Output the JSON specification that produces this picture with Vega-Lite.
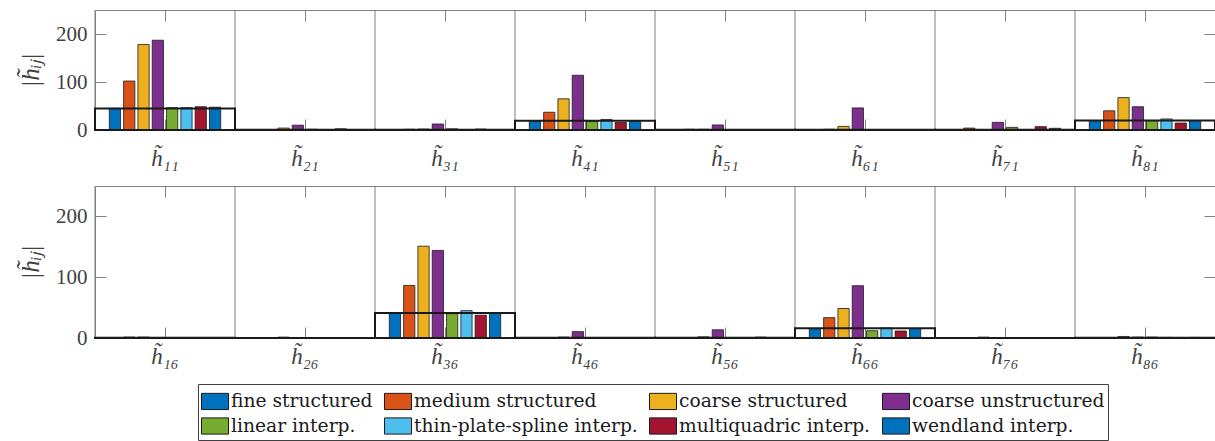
{
 "$schema": "https://vega.github.io/schema/vega-lite/v6.json",
 "padding": {"left": 18, "top": 9, "right": 0, "bottom": 0},
 "background": "white",
 "config": {
  "view": {"stroke": null},
  "font": "Liberation Serif",
  "axis": {"labelFont": "Liberation Serif", "titleFont": "Liberation Serif", "labelColor": "#404040", "titleColor": "#404040", "grid": false, "domainColor": "#808080", "tickColor": "#808080", "labelFontSize": 21, "titleFontSize": 25, "titleFontWeight": "normal"},
  "legend": {"orient": "none", "legendX": 103, "legendY": 374, "direction": "horizontal", "columns": 4, "symbolType": "M-1,-0.6H1V0.6H-1Z", "symbolSize": 729, "symbolStrokeColor": "#1a1a1a", "symbolStrokeWidth": 1, "symbolOpacity": 1, "labelFont": "DejaVu Serif", "labelFontSize": 18.7, "labelColor": "#1a1a1a", "labelOffset": 2, "columnPadding": 9, "rowPadding": -4, "padding": 3, "strokeColor": "#404040", "strokeWidth": 1, "fillColor": "white", "labelLimit": 400}
 },
 "datasets": {
  "topref": [
   {"g": "h\u0303\u2081\u2081", "v": 45}, {"g": "h\u0303\u2082\u2081", "v": 0.5}, {"g": "h\u0303\u2083\u2081", "v": 0.5}, {"g": "h\u0303\u2084\u2081", "v": 19.5},
   {"g": "h\u0303\u2085\u2081", "v": 0.3}, {"g": "h\u0303\u2086\u2081", "v": 0.3}, {"g": "h\u0303\u2087\u2081", "v": 0.5}, {"g": "h\u0303\u2088\u2081", "v": 20}
  ],
  "botref": [
   {"g": "h\u0303\u2081\u2086", "v": 0.3}, {"g": "h\u0303\u2082\u2086", "v": 0.2}, {"g": "h\u0303\u2083\u2086", "v": 41}, {"g": "h\u0303\u2084\u2086", "v": 0.3},
   {"g": "h\u0303\u2085\u2086", "v": 0.3}, {"g": "h\u0303\u2086\u2086", "v": 16}, {"g": "h\u0303\u2087\u2086", "v": 0.2}, {"g": "h\u0303\u2088\u2086", "v": 0.3}
  ],
  "top": [
   {"g": "h\u0303\u2081\u2081", "s": "fine structured", "v": 45}, {"g": "h\u0303\u2081\u2081", "s": "medium structured", "v": 102}, {"g": "h\u0303\u2081\u2081", "s": "coarse structured", "v": 178}, {"g": "h\u0303\u2081\u2081", "s": "coarse unstructured", "v": 187},
   {"g": "h\u0303\u2081\u2081", "s": "linear interp.", "v": 46.5}, {"g": "h\u0303\u2081\u2081", "s": "thin-plate-spline interp.", "v": 46.5}, {"g": "h\u0303\u2081\u2081", "s": "multiquadric interp.", "v": 48.5}, {"g": "h\u0303\u2081\u2081", "s": "wendland interp.", "v": 47.5},
   {"g": "h\u0303\u2082\u2081", "s": "fine structured", "v": 0.5}, {"g": "h\u0303\u2082\u2081", "s": "medium structured", "v": 1}, {"g": "h\u0303\u2082\u2081", "s": "coarse structured", "v": 4}, {"g": "h\u0303\u2082\u2081", "s": "coarse unstructured", "v": 10},
   {"g": "h\u0303\u2082\u2081", "s": "linear interp.", "v": 1.5}, {"g": "h\u0303\u2082\u2081", "s": "thin-plate-spline interp.", "v": 0.5}, {"g": "h\u0303\u2082\u2081", "s": "multiquadric interp.", "v": 2.5}, {"g": "h\u0303\u2082\u2081", "s": "wendland interp.", "v": 1},
   {"g": "h\u0303\u2083\u2081", "s": "fine structured", "v": 0.5}, {"g": "h\u0303\u2083\u2081", "s": "medium structured", "v": 1.5}, {"g": "h\u0303\u2083\u2081", "s": "coarse structured", "v": 2}, {"g": "h\u0303\u2083\u2081", "s": "coarse unstructured", "v": 12.5},
   {"g": "h\u0303\u2083\u2081", "s": "linear interp.", "v": 2.5}, {"g": "h\u0303\u2083\u2081", "s": "thin-plate-spline interp.", "v": 0.5}, {"g": "h\u0303\u2083\u2081", "s": "multiquadric interp.", "v": 2}, {"g": "h\u0303\u2083\u2081", "s": "wendland interp.", "v": 1},
   {"g": "h\u0303\u2084\u2081", "s": "fine structured", "v": 17.5}, {"g": "h\u0303\u2084\u2081", "s": "medium structured", "v": 37}, {"g": "h\u0303\u2084\u2081", "s": "coarse structured", "v": 65}, {"g": "h\u0303\u2084\u2081", "s": "coarse unstructured", "v": 114},
   {"g": "h\u0303\u2084\u2081", "s": "linear interp.", "v": 17.5}, {"g": "h\u0303\u2084\u2081", "s": "thin-plate-spline interp.", "v": 22}, {"g": "h\u0303\u2084\u2081", "s": "multiquadric interp.", "v": 16}, {"g": "h\u0303\u2084\u2081", "s": "wendland interp.", "v": 18},
   {"g": "h\u0303\u2085\u2081", "s": "fine structured", "v": 0.3}, {"g": "h\u0303\u2085\u2081", "s": "medium structured", "v": 1.5}, {"g": "h\u0303\u2085\u2081", "s": "coarse structured", "v": 1.5}, {"g": "h\u0303\u2085\u2081", "s": "coarse unstructured", "v": 10.5},
   {"g": "h\u0303\u2085\u2081", "s": "linear interp.", "v": 0.5}, {"g": "h\u0303\u2085\u2081", "s": "thin-plate-spline interp.", "v": 0.5}, {"g": "h\u0303\u2085\u2081", "s": "multiquadric interp.", "v": 1}, {"g": "h\u0303\u2085\u2081", "s": "wendland interp.", "v": 1},
   {"g": "h\u0303\u2086\u2081", "s": "fine structured", "v": 0.3}, {"g": "h\u0303\u2086\u2081", "s": "medium structured", "v": 1.5}, {"g": "h\u0303\u2086\u2081", "s": "coarse structured", "v": 7.5}, {"g": "h\u0303\u2086\u2081", "s": "coarse unstructured", "v": 46},
   {"g": "h\u0303\u2086\u2081", "s": "linear interp.", "v": 1}, {"g": "h\u0303\u2086\u2081", "s": "thin-plate-spline interp.", "v": 1}, {"g": "h\u0303\u2086\u2081", "s": "multiquadric interp.", "v": 1}, {"g": "h\u0303\u2086\u2081", "s": "wendland interp.", "v": 1},
   {"g": "h\u0303\u2087\u2081", "s": "fine structured", "v": 0.5}, {"g": "h\u0303\u2087\u2081", "s": "medium structured", "v": 4}, {"g": "h\u0303\u2087\u2081", "s": "coarse structured", "v": 1}, {"g": "h\u0303\u2087\u2081", "s": "coarse unstructured", "v": 16},
   {"g": "h\u0303\u2087\u2081", "s": "linear interp.", "v": 5.5}, {"g": "h\u0303\u2087\u2081", "s": "thin-plate-spline interp.", "v": 1}, {"g": "h\u0303\u2087\u2081", "s": "multiquadric interp.", "v": 7}, {"g": "h\u0303\u2087\u2081", "s": "wendland interp.", "v": 3.5},
   {"g": "h\u0303\u2088\u2081", "s": "fine structured", "v": 19.5}, {"g": "h\u0303\u2088\u2081", "s": "medium structured", "v": 40}, {"g": "h\u0303\u2088\u2081", "s": "coarse structured", "v": 67.5}, {"g": "h\u0303\u2088\u2081", "s": "coarse unstructured", "v": 48.5},
   {"g": "h\u0303\u2088\u2081", "s": "linear interp.", "v": 19.5}, {"g": "h\u0303\u2088\u2081", "s": "thin-plate-spline interp.", "v": 23}, {"g": "h\u0303\u2088\u2081", "s": "multiquadric interp.", "v": 14.5}, {"g": "h\u0303\u2088\u2081", "s": "wendland interp.", "v": 19.5}
  ],
  "bot": [
   {"g": "h\u0303\u2081\u2086", "s": "fine structured", "v": 0.3}, {"g": "h\u0303\u2081\u2086", "s": "medium structured", "v": 1.5}, {"g": "h\u0303\u2081\u2086", "s": "coarse structured", "v": 1.5}, {"g": "h\u0303\u2081\u2086", "s": "coarse unstructured", "v": 0.5},
   {"g": "h\u0303\u2081\u2086", "s": "linear interp.", "v": 0.3}, {"g": "h\u0303\u2081\u2086", "s": "thin-plate-spline interp.", "v": 0.3}, {"g": "h\u0303\u2081\u2086", "s": "multiquadric interp.", "v": 0.3}, {"g": "h\u0303\u2081\u2086", "s": "wendland interp.", "v": 0.3},
   {"g": "h\u0303\u2082\u2086", "s": "fine structured", "v": 0.2}, {"g": "h\u0303\u2082\u2086", "s": "medium structured", "v": 0.5}, {"g": "h\u0303\u2082\u2086", "s": "coarse structured", "v": 1.5}, {"g": "h\u0303\u2082\u2086", "s": "coarse unstructured", "v": 0.5},
   {"g": "h\u0303\u2082\u2086", "s": "linear interp.", "v": 0.2}, {"g": "h\u0303\u2082\u2086", "s": "thin-plate-spline interp.", "v": 0.2}, {"g": "h\u0303\u2082\u2086", "s": "multiquadric interp.", "v": 0.2}, {"g": "h\u0303\u2082\u2086", "s": "wendland interp.", "v": 0.2},
   {"g": "h\u0303\u2083\u2086", "s": "fine structured", "v": 40.5}, {"g": "h\u0303\u2083\u2086", "s": "medium structured", "v": 86.5}, {"g": "h\u0303\u2083\u2086", "s": "coarse structured", "v": 151}, {"g": "h\u0303\u2083\u2086", "s": "coarse unstructured", "v": 144},
   {"g": "h\u0303\u2083\u2086", "s": "linear interp.", "v": 40}, {"g": "h\u0303\u2083\u2086", "s": "thin-plate-spline interp.", "v": 45}, {"g": "h\u0303\u2083\u2086", "s": "multiquadric interp.", "v": 37.5}, {"g": "h\u0303\u2083\u2086", "s": "wendland interp.", "v": 41},
   {"g": "h\u0303\u2084\u2086", "s": "fine structured", "v": 0.3}, {"g": "h\u0303\u2084\u2086", "s": "medium structured", "v": 0.5}, {"g": "h\u0303\u2084\u2086", "s": "coarse structured", "v": 1.5}, {"g": "h\u0303\u2084\u2086", "s": "coarse unstructured", "v": 10.5},
   {"g": "h\u0303\u2084\u2086", "s": "linear interp.", "v": 0.5}, {"g": "h\u0303\u2084\u2086", "s": "thin-plate-spline interp.", "v": 0.3}, {"g": "h\u0303\u2084\u2086", "s": "multiquadric interp.", "v": 0.3}, {"g": "h\u0303\u2084\u2086", "s": "wendland interp.", "v": 0.3},
   {"g": "h\u0303\u2085\u2086", "s": "fine structured", "v": 0.3}, {"g": "h\u0303\u2085\u2086", "s": "medium structured", "v": 0.5}, {"g": "h\u0303\u2085\u2086", "s": "coarse structured", "v": 2}, {"g": "h\u0303\u2085\u2086", "s": "coarse unstructured", "v": 13.5},
   {"g": "h\u0303\u2085\u2086", "s": "linear interp.", "v": 0.3}, {"g": "h\u0303\u2085\u2086", "s": "thin-plate-spline interp.", "v": 0.3}, {"g": "h\u0303\u2085\u2086", "s": "multiquadric interp.", "v": 1.5}, {"g": "h\u0303\u2085\u2086", "s": "wendland interp.", "v": 0.3},
   {"g": "h\u0303\u2086\u2086", "s": "fine structured", "v": 15.5}, {"g": "h\u0303\u2086\u2086", "s": "medium structured", "v": 33.5}, {"g": "h\u0303\u2086\u2086", "s": "coarse structured", "v": 48.5}, {"g": "h\u0303\u2086\u2086", "s": "coarse unstructured", "v": 86},
   {"g": "h\u0303\u2086\u2086", "s": "linear interp.", "v": 12}, {"g": "h\u0303\u2086\u2086", "s": "thin-plate-spline interp.", "v": 16.5}, {"g": "h\u0303\u2086\u2086", "s": "multiquadric interp.", "v": 11.5}, {"g": "h\u0303\u2086\u2086", "s": "wendland interp.", "v": 15.5},
   {"g": "h\u0303\u2087\u2086", "s": "fine structured", "v": 0.2}, {"g": "h\u0303\u2087\u2086", "s": "medium structured", "v": 0.3}, {"g": "h\u0303\u2087\u2086", "s": "coarse structured", "v": 1.5}, {"g": "h\u0303\u2087\u2086", "s": "coarse unstructured", "v": 0.5},
   {"g": "h\u0303\u2087\u2086", "s": "linear interp.", "v": 0.5}, {"g": "h\u0303\u2087\u2086", "s": "thin-plate-spline interp.", "v": 0.2}, {"g": "h\u0303\u2087\u2086", "s": "multiquadric interp.", "v": 0.5}, {"g": "h\u0303\u2087\u2086", "s": "wendland interp.", "v": 0.2},
   {"g": "h\u0303\u2088\u2086", "s": "fine structured", "v": 0.3}, {"g": "h\u0303\u2088\u2086", "s": "medium structured", "v": 0.3}, {"g": "h\u0303\u2088\u2086", "s": "coarse structured", "v": 2.5}, {"g": "h\u0303\u2088\u2086", "s": "coarse unstructured", "v": 1.5},
   {"g": "h\u0303\u2088\u2086", "s": "linear interp.", "v": 1.5}, {"g": "h\u0303\u2088\u2086", "s": "thin-plate-spline interp.", "v": 1}, {"g": "h\u0303\u2088\u2086", "s": "multiquadric interp.", "v": 0.3}, {"g": "h\u0303\u2088\u2086", "s": "wendland interp.", "v": 1}
  ]
 },
 "spacing": 15,
 "vconcat": [
  {
   "width": 1120, "height": 120,
   "layer": [
    {"data": {"name": "topref"}, "mark": {"type": "rule", "color": "#808080", "strokeWidth": 1},
     "encoding": {"x": {"field": "g", "type": "nominal", "sort": null, "bandPosition": 0, "axis": null}}},
    {"data": {"name": "top"}, "mark": {"type": "bar", "stroke": "#1a1a1a", "strokeWidth": 0.8},
     "encoding": {
      "x": {"field": "g", "type": "nominal", "sort": null, "scale": {"paddingInner": 0, "paddingOuter": 0},
            "axis": {"orient": "bottom", "title": null, "labelAngle": 0, "tickSize": -11, "labelPadding": 28, "domainColor": "#262626", "labelFontStyle": "italic", "labelFontSize": 23}},
      "xOffset": {"field": "s", "type": "nominal", "sort": null, "scale": {"paddingInner": 0.214, "paddingOuter": 1.107}},
      "y": {"field": "v", "type": "quantitative", "scale": {"domain": [0, 250], "nice": false},
            "axis": {"orient": "left", "values": [0, 100, 200], "tickSize": -11, "labelPadding": 19, "title": "|h\u0303\u1d62\u2c7c|", "titleFontStyle": "italic", "titlePadding": 12}},
      "color": {"field": "s", "type": "nominal", "title": null,
                "scale": {"domain": ["fine structured", "medium structured", "coarse structured", "coarse unstructured", "linear interp.", "thin-plate-spline interp.", "multiquadric interp.", "wendland interp."],
                          "range": ["#0072BD", "#D95319", "#EDB120", "#7E2F8E", "#77AC30", "#4DBEEE", "#A2142F", "#0072BD"]}}
     }},
    {"data": {"name": "topref"}, "mark": {"type": "bar", "fill": "white", "fillOpacity": 0, "stroke": "#1a1a1a", "strokeWidth": 2},
     "encoding": {
      "x": {"field": "g", "type": "nominal", "sort": null, "axis": {"orient": "top", "labels": false, "title": null, "tickSize": -11}},
      "y": {"field": "v", "type": "quantitative", "axis": {"orient": "right", "labels": false, "title": null, "values": [0, 100, 200], "tickSize": -11}}
     }}
   ],
   "resolve": {"axis": {"x": "independent", "y": "independent"}}
  },
  {
   "width": 1120, "height": 152,
   "layer": [
    {"data": {"name": "botref"}, "mark": {"type": "rule", "color": "#808080", "strokeWidth": 1},
     "encoding": {"x": {"field": "g", "type": "nominal", "sort": null, "bandPosition": 0, "axis": null}}},
    {"data": {"name": "bot"}, "mark": {"type": "bar", "stroke": "#1a1a1a", "strokeWidth": 0.8},
     "encoding": {
      "x": {"field": "g", "type": "nominal", "sort": null, "scale": {"paddingInner": 0, "paddingOuter": 0},
            "axis": {"orient": "bottom", "title": null, "labelAngle": 0, "tickSize": -11, "labelPadding": 18, "domainColor": "#262626", "labelFontStyle": "italic", "labelFontSize": 23}},
      "xOffset": {"field": "s", "type": "nominal", "sort": null, "scale": {"paddingInner": 0.214, "paddingOuter": 1.107}},
      "y": {"field": "v", "type": "quantitative", "scale": {"domain": [0, 250], "nice": false},
            "axis": {"orient": "left", "values": [0, 100, 200], "tickSize": -11, "labelPadding": 19, "title": "|h\u0303\u1d62\u2c7c|", "titleFontStyle": "italic", "titlePadding": 12}},
      "color": {"field": "s", "type": "nominal", "title": null,
                "scale": {"domain": ["fine structured", "medium structured", "coarse structured", "coarse unstructured", "linear interp.", "thin-plate-spline interp.", "multiquadric interp.", "wendland interp."],
                          "range": ["#0072BD", "#D95319", "#EDB120", "#7E2F8E", "#77AC30", "#4DBEEE", "#A2142F", "#0072BD"]}}
     }},
    {"data": {"name": "botref"}, "mark": {"type": "bar", "fill": "white", "fillOpacity": 0, "stroke": "#1a1a1a", "strokeWidth": 2},
     "encoding": {
      "x": {"field": "g", "type": "nominal", "sort": null, "axis": {"orient": "top", "labels": false, "title": null, "tickSize": -11}},
      "y": {"field": "v", "type": "quantitative", "axis": {"orient": "right", "labels": false, "title": null, "values": [0, 100, 200], "tickSize": -11}}
     }}
   ],
   "resolve": {"axis": {"x": "independent", "y": "independent"}}
  }
 ]
}
